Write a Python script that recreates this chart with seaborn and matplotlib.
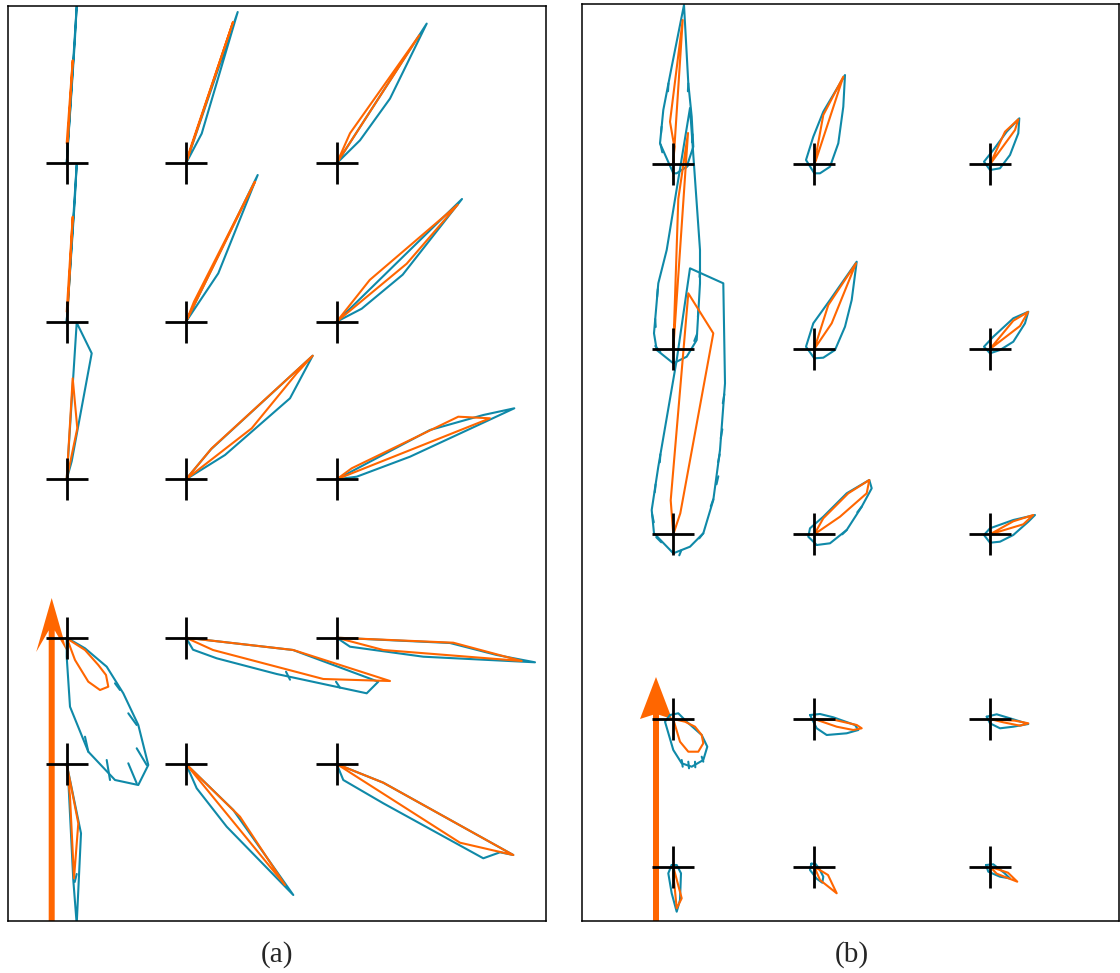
import matplotlib
matplotlib.use('Agg')
import numpy as np
import pandas as pd
import seaborn as sns
import matplotlib.pyplot as plt

sns.set_style('white')
plt.rcParams['font.family'] = ['Liberation Serif', 'DejaVu Serif']

TEAL = '#0F89A8'
ORANGE = '#FF6600'

# station grid (pixel-like units, y grows downward)
a_cols = [66.7, 186.0, 336.7]
a_rows = [163.3, 321.7, 479.3, 637.7, 764.0]
b_cols = [673.3, 814.3, 990.0]
b_rows = [164.3, 349.0, 534.3, 719.0, 866.7]

# trajectories as offsets from each station, row by row, left to right
a_teal = [
    [(0, 0), (10, -157), (8, -120), (0, 0)],
    [(0, 0), (51.7, -151.3), (15.7, -29.7), (0, 0)],
    [(0, 0), (90, -139.7), (53.3, -64.7), (23.3, -23), (0, 0)],
    [(0, 0), (10, -157), (8, -120), (0, 0)],
    [(0, 0), (71.7, -146.7), (32.3, -48.4), (0, 0)],
    [(0, 0), (125.3, -122.7), (66, -47), (25, -13), (0, 0)],
    [(0, 0), (10, -156.6), (25, -126), (5, -18), (0, 0)],
    [(0, 0), (25, -30), (126.7, -123.6), (104, -81), (39, -24.3), (0, 0)],
    [(0, 0), (93.3, -49.3), (146.6, -64.3), (177.6, -71), (73.3, -22.6), (20, -2.6), (0, 0)],
    [(0, 0), (18.3, 10.6), (40, 29), (56.6, 55.6), (71.6, 87.3), (81.6, 127.3), (71.6, 147.3),
     (48.3, 142.3), (21.6, 114), (3.3, 69), (0, 19), (0, 0)],
    [(0, 0), (7, 12), (30.7, 20.6), (90.7, 36.3), (180.7, 55.6), (192.3, 44), (107, 12.3), (0, 0)],
    [(0, 0), (13.3, 9), (86.6, 19), (198.3, 24.6), (160, 17.3), (113.3, 5.3), (0, 0)],
    [(0, 0), (14.3, 69.3), (10, 160), (6.6, 116), (1.6, 16), (0, 0)],
    [(0, 0), (10.7, 24.3), (40.7, 62.7), (107.3, 131), (47.3, 46), (0, 0)],
    [(0, 0), (6.6, 16), (46.6, 39.3), (146.6, 94.3), (163.3, 88.3), (176.6, 91), (46.6, 18.7), (0, 0)],
]
a_orange = [
    [(0, -20), (6, -103), (1, -20)],
    [(0, 0), (47, -141.3), (4, -14), (0, 0)],
    [(0, 0), (13.3, -30), (82.6, -128), (0, 0)],
    [(0, -10), (6, -105), (1, -10)],
    [(0, 0), (69, -140), (8, -20), (0, 0)],
    [(0, 0), (33, -41.7), (121, -117), (70, -58), (0, 0)],
    [(0, 0), (6, -101), (10.6, -51), (0, 0)],
    [(0, 0), (25.7, -31), (126.7, -123.6), (110.7, -106), (65.7, -51), (0, 0)],
    [(0, 0), (15, -11), (121.6, -62.6), (153.3, -61), (0, 0)],
    [(0, 0.6), (18.3, 12.3), (31.6, 27.3), (39.3, 37.3), (41.6, 49), (33.3, 52.3), (21.6, 44),
     (8.3, 22.3), (0, 0)],
    [(0, 0), (107.3, 12.3), (204, 43.3), (137.3, 41.3), (27, 12.3), (0, 0)],
    [(0, 0), (116.6, 5), (185, 23.3), (46.6, 12.3), (0, 0)],
    [(0, 0), (11.6, 59.3), (7.3, 114.3), (3.3, 32.7), (0, 0)],
    [(0, 0), (54, 52.7), (99, 121), (0, 0)],
    [(0, 0), (46.6, 18.7), (176.6, 91), (123.3, 78.7), (0, 0)],
]
b_teal = [
    [(0, 9), (-13.3, -21), (-10, -54.3), (-1.6, -97.6), (10.7, -159.3), (15, -81), (18.4, -47.6),
     (20, -17.6), (13.4, 2.4), (3.4, 9), (0, 9)],
    [(0, 9), (-8.3, -4.3), (-1, -27.6), (9, -52.6), (30.7, -89.3), (29, -57.6), (24, -21),
     (15.7, 2.4), (5.7, 9), (0, 9)],
    [(0, 5.7), (-6, -2.6), (3.3, -14.3), (16.7, -32.6), (29.3, -46), (28.3, -31), (20, -9.3),
     (10, 4), (0, 5.7)],
    [(0, 14.3), (-16.6, 1), (-19.3, -15.7), (-15, -65.7), (-6.6, -99), (16.7, -241), (26.7, -99),
     (26.7, -65.7), (23.4, -9), (13.4, 7.7), (0, 14.3)],
    [(0, 9.3), (-8.3, -2.3), (-1, -25.7), (15.7, -49), (42.4, -87.3), (37.4, -49), (30.7, -22.3),
     (20.7, 1), (9, 8.7), (0, 9.3)],
    [(0, 4.3), (-6, -2.3), (3.3, -12.3), (23.3, -30.7), (38.3, -37.3), (35, -25.7), (23.3, -7.3),
     (10, 1), (0, 4.3)],
    [(0, 19), (-19.3, -1), (-21.6, -24.3), (-15, -67.6), (3.4, -174.3), (16.7, -266), (50, -251),
     (51.7, -151), (46.7, -84.3), (40, -34.3), (30, -1), (16.7, 12.4), (0, 19)],
    [(2.4, 10.7), (-6, 2.4), (-4.3, -6), (9, -17.6), (32.4, -41), (55, -54.3), (57.4, -46),
     (47.4, -27.6), (32.4, -4.3), (15.7, 9), (2.4, 10.7)],
    [(0, 8.4), (-6, 0.7), (0, -6), (23.3, -14.3), (45, -19.3), (38.3, -12.6), (23.3, 0.7),
     (10, 7.4), (0, 8.4)],
    [(-3.3, -4), (-8.3, 2.7), (0, 31), (8.4, 44.3), (18.4, 47.7), (30, 41), (34, 27.7), (28.4, 16),
     (13.4, 2.7), (5, -5.7), (-3.3, -4)],
    [(-4.3, -4), (2.4, 9.3), (12.4, 16), (32.4, 14.3), (44, 11), (40.7, 6), (19, -1.7), (5.7, -5),
     (-4.3, -4)],
    [(-3.3, -2.3), (0, 4.3), (10, 9.3), (23.3, 7.7), (38.3, 5), (23.3, 0.3), (6.7, -4.7), (-3.3, -2.3)],
    [(-1.6, -1.7), (-5, 6.6), (-1.6, 26.6), (3.4, 45), (6.7, 33.3), (7.7, 6.6), (3.4, -1.7), (-1.6, -1.7)],
    [(-3, -3), (-4.3, 3.3), (2.4, 12), (8, 16), (9, 10), (5, 2), (1, -3), (-3, -3)],
    [(-4, -1.7), (-1.7, 5), (10, 10), (20, 11.7), (14, 6), (3.3, -2.4), (-4, -1.7)],
]
b_orange = [
    [(0, 0), (9.4, -144.3), (-3.3, -42.6), (1, -17.6), (0, 0)],
    [(0, 0), (9, -49.3), (29, -87.6), (1.7, -4.3), (0, 0)],
    [(0, 0), (15, -32.6), (28.3, -45), (25, -34.3), (0, 0)],
    [(0, 0), (14.7, -216), (5, -150), (0, 0)],
    [(0, 0), (14, -44), (41.7, -85.7), (17.4, -25.7), (0, 0)],
    [(0, 0), (23.3, -28.3), (38, -37), (30, -23), (0, 0)],
    [(0, 0), (-2.6, -34), (15, -241), (40, -201), (7, -21), (0, 0)],
    [(0, 0), (9, -16), (34, -41), (55, -54.3), (52.4, -41), (25.7, -17.6), (0, 0)],
    [(0, 0), (23.3, -13), (43.3, -19.3), (33.3, -10), (0, 0)],
    [(0, 0), (1.7, 6), (6.7, 22.7), (15, 32.7), (25, 32.7), (30, 24.3), (28.4, 16), (21.7, 7.7),
     (11.7, 2.7), (0, 0)],
    [(0, 0), (20.7, 1), (42.4, 6), (47.4, 9.3), (39, 11), (22.4, 7.7), (0, 0)],
    [(0, 0), (25, 1.7), (38.3, 4.3), (30, 6.7), (13.3, 3.3), (0, 0)],
    [(0, 0), (8.4, 31.6), (3.4, 41.6), (0, 6.6), (0, 0)],
    [(0, 0), (5.7, 13.3), (22.4, 26.6), (13.7, 8.3), (0, 0)],
    [(0, 0), (6.7, 7), (27.3, 15), (18, 6), (0, 0)],
]

# small direction barbs along the teal tracks: (station index, start offset, end offset)
a_barbs = [
    (9, (18.3, 99), (21.6, 114)), (9, (40, 122.3), (43.3, 142.3)), (9, (61.6, 125.6), (70, 145.6)),
    (9, (70, 110.6), (80, 127.3)), (9, (61.6, 75.6), (70, 87.3)), (9, (48.3, 45.6), (53.3, 52.3)),
    (10, (100, 34), (104, 42)), (10, (150, 44), (154, 50)), (12, (10, 110), (8, 118)),
]
b_barbs = [
    (0, (-4.8, -81), (-5.3, -73)), (0, (-11.7, -37.6), (-12.3, -31)), (0, (15, -81), (14.6, -73)),
    (0, (-12.8, -20), (-11, -12)), (0, (19.3, -30), (18.7, -22)), (0, (16, 0), (12, 4)),
    (3, (-15.5, -60), (-16.2, -52)), (3, (-18.1, -30), (-17.6, -22)), (3, (26.7, -80), (26.2, -72)),
    (3, (25.2, -40), (24.6, -32)), (3, (23.8, -15), (21, -8)), (3, (-18, -3), (-13, 3)),
    (6, (-12.9, -80), (-13.5, -72)), (6, (-17.7, -50), (-18.5, -42)), (6, (-21.2, -20), (-19.5, -12)),
    (6, (51, -140), (49.5, -131)), (6, (49, -105), (47.5, -96)), (6, (46.4, -80), (44.8, -72)),
    (6, (45, -58), (43.2, -50)), (6, (40, -35), (37.5, -28)), (6, (30, -1), (26, 4)),
    (6, (-17, 3), (-12, 8)), (6, (8, 16), (6, 21)),
    (7, (47.4, -27.6), (43, -22)), (7, (32.4, -4.3), (28, 0)),
    (9, (8.4, 41), (9.4, 47.7)), (9, (15, 42.7), (15.7, 49.3)), (9, (21.7, 42.7), (22, 48.3)),
    (9, (28.4, 37.7), (30, 42.7)),
]

# big reference arrow: (x, base y, tip y, head width, head length, overhang)
a_arrow = (51.7, 921, 598, 31, 54, 0.4)
b_arrow = (656.0, 921, 677, 32, 42, 0.1)


def to_frame(cols, rows, teal, orange, barbs):
    recs = []
    stations = [(cx, cy) for cy in rows for cx in cols]
    for kind, paths in (('teal', teal), ('orange', orange)):
        for i, path in enumerate(paths):
            cx, cy = stations[i]
            for dx, dy in path:
                recs.append({'x': cx + dx, 'y': cy + dy, 'kind': kind, 'uid': f'{kind}{i}'})
    for j, (i, p0, p1) in enumerate(barbs):
        cx, cy = stations[i]
        for dx, dy in (p0, p1):
            recs.append({'x': cx + dx, 'y': cy + dy, 'kind': 'teal', 'uid': f'barb{j}'})
    return pd.DataFrame(recs), stations


fig = plt.figure(figsize=(11.2, 9.73), dpi=100)
ax_a = fig.add_axes([8 / 1120, 52 / 973, 538 / 1120, 915 / 973])
ax_b = fig.add_axes([582 / 1120, 52 / 973, 537 / 1120, 917 / 973])

panels = [
    (ax_a, a_cols, a_rows, a_teal, a_orange, a_barbs, a_arrow, (8, 546, 921, 6)),
    (ax_b, b_cols, b_rows, b_teal, b_orange, b_barbs, b_arrow, (582, 1119, 921, 4)),
]
for ax, cols, rows, teal, orange, barbs, arr, lims in panels:
    df, stations = to_frame(cols, rows, teal, orange, barbs)
    ax.set_xlim(lims[0], lims[1])
    ax.set_ylim(lims[2], lims[3])
    x0, y0, y1, hw, hl, oh = arr
    ax.arrow(x0, y0, 0, y1 - y0, width=6, head_width=hw, head_length=hl, overhang=oh,
             length_includes_head=True, color=ORANGE, lw=0, zorder=1)
    teal_df = df[df['kind'] == 'teal']
    orange_df = df[df['kind'] == 'orange']
    sns.lineplot(data=teal_df, x='x', y='y', units='uid', estimator=None, sort=False,
                 color=TEAL, lw=1.5, legend=False, ax=ax, zorder=2)
    sns.lineplot(data=orange_df, x='x', y='y', units='uid', estimator=None, sort=False,
                 color=ORANGE, lw=1.5, legend=False, ax=ax, zorder=2.5)
    sx = [s[0] for s in stations]
    sy = [s[1] for s in stations]
    ax.plot(sx, sy, '+', ms=30, mew=2.0, color='black', zorder=3)
    ax.set_xticks([])
    ax.set_yticks([])
    ax.set_xlabel('')
    ax.set_ylabel('')
    for sp in ax.spines.values():
        sp.set_visible(True)
        sp.set_color('black')
        sp.set_linewidth(1.1)

fig.text(277 / 1120, 18 / 973, '(a)', ha='center', va='center', fontsize=21)
fig.text(852 / 1120, 18 / 973, '(b)', ha='center', va='center', fontsize=21)

fig.savefig('out.png', dpi=100)
